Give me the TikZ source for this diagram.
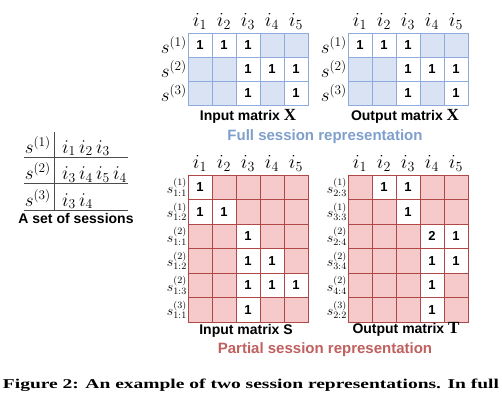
\RequirePackage{fix-cm}
\documentclass[tikz,border=0pt]{standalone}
\usepackage{graphicx}
\usepackage{fontspec}
\setmainfont{Liberation Serif}
\setsansfont{Liberation Sans}
\definecolor{bfill}{HTML}{DAE3F3}
\definecolor{bline}{HTML}{8FAADC}
\definecolor{pfill}{HTML}{F6CACA}
\definecolor{pline}{HTML}{B04848}
\definecolor{btext}{HTML}{7F9FCD}
\definecolor{ptext}{HTML}{C0605F}
\newcommand{\bigmat}[1]{{\fontsize{17}{17}\selectfont$\mathbf{#1}$}}
\tikzset{
  bcell/.style={draw=bline, fill=bfill, line width=0.8pt, minimum width=24pt, minimum height=24pt, inner sep=0pt, outer sep=0pt},
  bval/.style={bcell, fill=white, font=\sffamily\bfseries\fontsize{13}{13}\selectfont},
  pcell/.style={draw=pline, fill=pfill, line width=0.8pt, minimum width=24pt, minimum height=24.5pt, inner sep=0pt, outer sep=0pt},
  pval/.style={pcell, fill=white, font=\sffamily\bfseries\fontsize{13}{13}\selectfont},
  colhead/.style={anchor=base, inner sep=0pt, font=\fontsize{20}{20}\selectfont},
  rowhead/.style={anchor=east, inner sep=1pt, font=\fontsize{19}{19}\selectfont},
  rowheadsmall/.style={anchor=east, inner sep=1pt, font=\fontsize{14}{14}\selectfont},
  mlabel/.style={anchor=base, inner sep=0pt, font=\sffamily\bfseries\fontsize{14}{14}\selectfont},
  grouplabel/.style={anchor=base, inner sep=0pt, font=\sffamily\bfseries\fontsize{15}{15}\selectfont},
  tline/.style={draw=black!70, line width=0.8pt},
  setitem/.style={anchor=base west, inner sep=0pt, font=\fontsize{19.5}{19.5}\selectfont},
  setname/.style={anchor=base east, inner sep=0pt, font=\fontsize{19}{19}\selectfont}
}
\begin{document}
\begin{tikzpicture}[x=1pt,y=-1pt]
\useasboundingbox (0,0) rectangle (502,407);
\fill[white] (0,0) rectangle (502,407);

% ---------- top-left: input matrix X ----------
\foreach \r in {1,2,3}{\foreach \c in {1,...,5}{
  \node[bcell] (xa-\r-\c) at ({188+24*\c-12},{33+24*\r-12}) {};}}
\foreach \r/\c/\v in {1/1/1,1/2/1,1/3/1,2/3/1,2/4/1,2/5/1,3/3/1,3/5/1}{
  \node[bval] (xav-\r-\c) at (xa-\r-\c) {\v};}
\foreach \c in {1,...,5}{\node[colhead] (xah-\c) at ({188+24*\c-12},26) {$i_{\c}$};}
\foreach \r in {1,2,3}{\node[rowhead] (xar-\r) at ({188},{33+24*\r-12}) {$s^{(\r)}$};}
\node[mlabel] (xalab) at (248,120) {Input matrix \bigmat{X}};

% ---------- top-right: output matrix X ----------
\foreach \r in {1,2,3}{\foreach \c in {1,...,5}{
  \node[bcell] (xb-\r-\c) at ({348+24*\c-12},{33+24*\r-12}) {};}}
\foreach \r/\c/\v in {1/1/1,1/2/1,1/3/1,2/3/1,2/4/1,2/5/1,3/3/1,3/5/1}{
  \node[bval] (xbv-\r-\c) at (xb-\r-\c) {\v};}
\foreach \c in {1,...,5}{\node[colhead] (xbh-\c) at ({348+24*\c-12},26) {$i_{\c}$};}
\foreach \r in {1,2,3}{\node[rowhead] (xbr-\r) at ({348},{33+24*\r-12}) {$s^{(\r)}$};}
\node[mlabel] (xblab) at (405,120) {Output matrix \bigmat{X}};

\node[grouplabel, text=btext] (full) at (325,140) {Full session representation};

% ---------- bottom-left: input matrix S ----------
\foreach \r in {1,...,6}{\foreach \c in {1,...,5}{
  \node[pcell] (sa-\r-\c) at ({188+24*\c-12},{175+24.5*\r-12.25}) {};}}
\foreach \r/\c/\v in {1/1/1,2/1/1,2/2/1,3/3/1,4/3/1,4/4/1,5/3/1,5/4/1,5/5/1,6/3/1}{
  \node[pval] (sav-\r-\c) at (sa-\r-\c) {\v};}
\foreach \c in {1,...,5}{\node[colhead] (sah-\c) at ({188+24*\c-12},168) {$i_{\c}$};}
\foreach \r/\lab in {1/{s^{(1)}_{1:1}},2/{s^{(1)}_{1:2}},3/{s^{(2)}_{1:1}},4/{s^{(2)}_{1:2}},5/{s^{(2)}_{1:3}},6/{s^{(3)}_{1:1}}}{
  \node[rowheadsmall] (sar-\r) at ({188},{175+24.5*\r-12.25}) {$\lab$};}
\node[mlabel] (salab) at (246,334) {Input matrix S};

% ---------- bottom-right: output matrix T ----------
\foreach \r in {1,...,6}{\foreach \c in {1,...,5}{
  \node[pcell] (sb-\r-\c) at ({348+24*\c-12},{175+24.5*\r-12.25}) {};}}
\foreach \r/\c/\v in {1/2/1,1/3/1,2/3/1,3/4/2,3/5/1,4/4/1,4/5/1,5/4/1,6/4/1}{
  \node[pval] (sbv-\r-\c) at (sb-\r-\c) {\v};}
\foreach \c in {1,...,5}{\node[colhead] (sbh-\c) at ({348+24*\c-12},168) {$i_{\c}$};}
\foreach \r/\lab in {1/{s^{(1)}_{2:3}},2/{s^{(1)}_{3:3}},3/{s^{(2)}_{2:4}},4/{s^{(2)}_{3:4}},5/{s^{(2)}_{4:4}},6/{s^{(3)}_{2:2}}}{
  \node[rowheadsmall] (sbr-\r) at ({348},{175+24.5*\r-12.25}) {$\lab$};}
\node[mlabel] (sblab) at (406,333) {Output matrix \bigmat{T}};

\node[grouplabel, text=ptext] (partial) at (325,353) {Partial session representation};

% ---------- left: a set of sessions ----------
\coordinate (vtop) at (54.5,132);
\coordinate (vbot) at (54.5,210);
\coordinate (l1a) at (24,157); \coordinate (l1b) at (128,157);
\coordinate (l2a) at (24,183.5); \coordinate (l2b) at (128,183.5);
\coordinate (l3a) at (24,210); \coordinate (l3b) at (128,210);
\draw[tline] (vtop) -- (vbot);
\draw[tline] (l1a) -- (l1b);
\draw[tline] (l2a) -- (l2b);
\draw[tline] (l3a) -- (l3b);
\node[setname] (ss1) at (51,153) {$s^{(1)}$};
\node[setname] (ss2) at (51,179.5) {$s^{(2)}$};
\node[setname] (ss3) at (51,206) {$s^{(3)}$};
\node[setitem] (si1) at (62,153) {$i_1\,i_2\,i_3$};
\node[setitem] (si2) at (62,179.5) {$i_3\,i_4\,i_5\,i_4$};
\node[setitem] (si3) at (62,206) {$i_3\,i_4$};
\node[mlabel] (setlab) at (76,223.5) {A set of sessions};

% ---------- caption ----------
\node[anchor=base, inner sep=0pt, font=\bfseries\fontsize{14}{14}\selectfont] (cap) at (251,388)
  {\resizebox{496pt}{9.5pt}{Figure 2: An example of two session representations. In full}};
\end{tikzpicture}
\end{document}
